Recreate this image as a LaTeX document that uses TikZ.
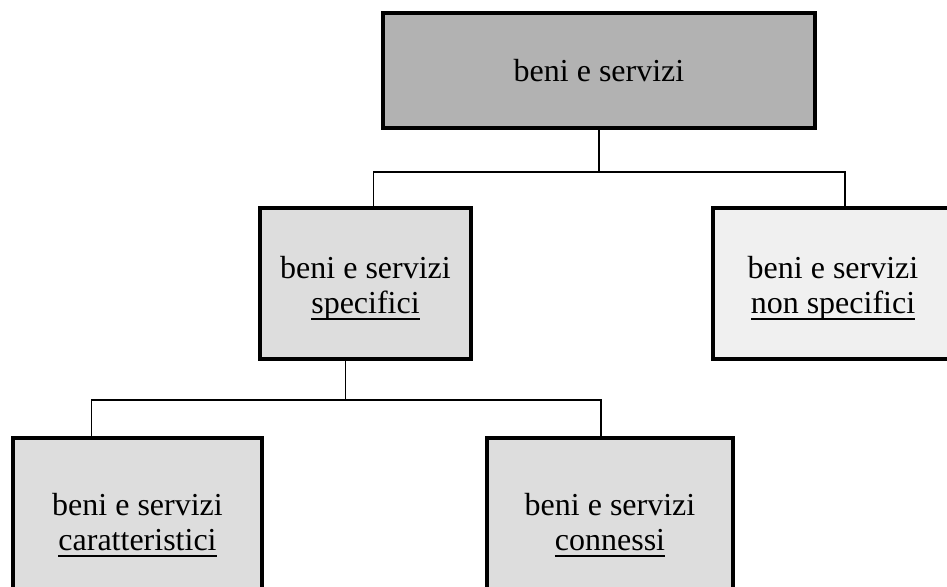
\documentclass[tikz,border=0pt]{standalone}
\usepackage{fontspec}
\setmainfont{Liberation Serif}
\definecolor{box_dark}{RGB}{178, 178, 178}
\definecolor{box_mid}{RGB}{221, 221, 221}
\definecolor{box_light}{RGB}{240, 240, 240}
\usetikzlibrary{positioning, calc}
\newcommand{\upstrut}{\rule{0pt}{31pt}}
\newcommand{\ulword}[1]{\setbox0\hbox{#1}\rlap{\rule[-6.5pt]{\wd0}{1.5pt}}\box0}

\begin{document}
\begin{tikzpicture}[x=1pt, y=-1pt,
        cat/.style={rectangle, draw=black, line width=3.5pt, inner sep=0pt,
                    align=center, font=\fontsize{32}{35}\selectfont},
        conn/.style={line width=1.5pt, color=black},
      ]
        \useasboundingbox (0,0) rectangle (947,586);

        \node[cat, fill=box_dark,  minimum width=432, minimum height=115] (beni)     at (599,   70.5) {beni e servizi};
        \node[cat, fill=box_mid,   minimum width=211, minimum height=151] (spec)     at (365.5, 283.5) {\upstrut beni e servizi\\\ulword{specifici}};
        \node[cat, fill=box_light, minimum width=240, minimum height=151] (nonspec)  at (833,   283.5) {\upstrut beni e servizi\\\ulword{non specifici}};
        \node[cat, fill=box_mid,   minimum width=249, minimum height=174] (caratt)   at (137.5, 525) {beni e servizi\\\ulword{caratteristici}};
        \node[cat, fill=box_mid,   minimum width=246, minimum height=174] (connessi) at (610,   525) {beni e servizi\\\ulword{connessi}};

        % first level
        \coordinate (bus1) at (beni.south |- 0,172);
        \draw[conn] (beni.south) -- (bus1);
        \draw[conn] ([xshift=8]spec.north) |- (bus1) -| ([xshift=12]nonspec.north);

        % second level
        \coordinate (bus2) at ([xshift=-20]spec.south |- 0,400);
        \draw[conn] ([xshift=-20]spec.south) -- (bus2);
        \draw[conn] ([xshift=-46]caratt.north) |- (bus2) -| ([xshift=-9]connessi.north);
      \end{tikzpicture}
\end{document}
